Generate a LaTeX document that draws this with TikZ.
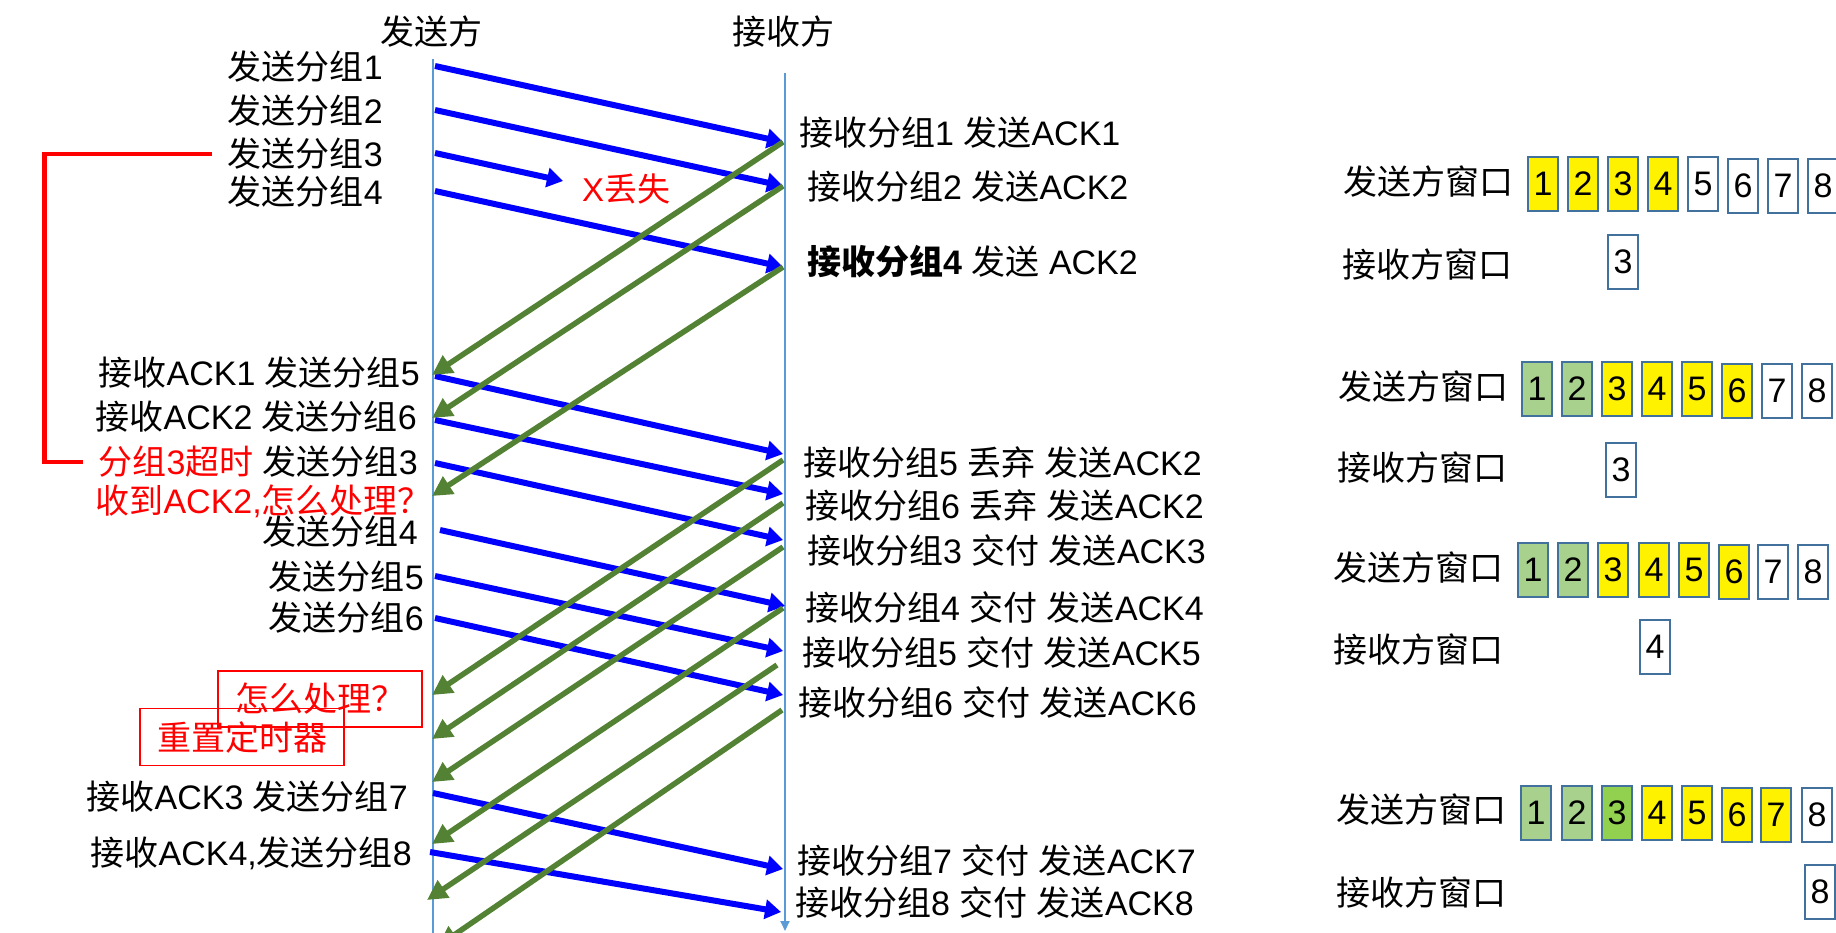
\documentclass[tikz,border=0pt]{standalone}
\usepackage{fontspec}
\setmainfont{Liberation Sans}
\newfontfamily\cjkfont{Noto Sans CJK SC}
\newfontfamily\latfont{Liberation Sans}
\usetikzlibrary{arrows.meta}
\XeTeXinterchartokenstate=1
\chardef\cjkclass=20
\count255="4E00
\loop
  \XeTeXcharclass\count255=\cjkclass
\ifnum\count255<"9FFF
  \advance\count255 by 1
\repeat
\XeTeXcharclass"FF1F=\cjkclass
\XeTeXcharclass"FF0C=\cjkclass
\XeTeXinterchartoks 0 \cjkclass = {\cjkfont}
\XeTeXinterchartoks 4095 \cjkclass = {\cjkfont}
\XeTeXinterchartoks \cjkclass 0 = {\latfont}
\XeTeXinterchartoks \cjkclass 4095 = {\latfont}
\definecolor{lifeblue}{HTML}{5B9BD5}
\definecolor{ackgreen}{HTML}{548235}
\definecolor{boxblue}{HTML}{41719C}
\definecolor{lightgrn}{HTML}{A9D18E}
\definecolor{darkgrn}{HTML}{92D050}

\begin{document}
\begin{tikzpicture}[x=1pt,y=-1pt,
    txt/.style={font=\fontsize{34}{40}\selectfont, inner sep=0pt},
    data/.style={every edge/.style={draw=blue, line width=6pt,
      -{Triangle[length=16pt,width=19pt]}}},
    ack/.style={every edge/.style={draw=ackgreen, line width=5.5pt,
      -{Triangle[length=20pt,width=20pt]}}},
    life/.style={every edge/.style={draw=lifeblue, line width=1.8pt,
      -{Triangle[length=10pt,width=9pt]}}},
    pkt/.style={draw=boxblue, line width=2pt, minimum width=30pt, minimum height=54pt,
      inner sep=0pt, font=\fontsize{34}{40}\selectfont},
    redbox/.style={draw=red, line width=1.5pt, text=red, inner sep=0pt,
      font=\fontsize{34}{40}\selectfont}
  ]
    \useasboundingbox (0,0) rectangle (1836,932);

    \node[txt] (snd) at (431,32) {发送方};
    \node[txt] (rcv) at (783,32) {接收方};
    \coordinate (stop) at (433,59);
    \coordinate (sbot) at (433,944);
    \coordinate (rtop) at (785,73);
    \coordinate (rbot) at (785,931);
    \path[life] (stop) edge (sbot) (rtop) edge (rbot);

    \node[txt, anchor=east] (l1) at (383,67) {发送分组1};
    \node[txt, anchor=east] (l2) at (383,111) {发送分组2};
    \node[txt, anchor=east] (l3) at (383,154) {发送分组3};
    \node[txt, anchor=east] (l4) at (383,192) {发送分组4};
    \node[txt, anchor=east] (l5) at (420,373) {接收ACK1 发送分组5};
    \node[txt, anchor=east] (l6) at (417,417) {接收ACK2 发送分组6};
    \node[txt, anchor=east] (l7) at (418,462) {{\color{red}分组3超时} 发送分组3};
    \node[txt, anchor=east, text=red] (q1) at (432,501) {收到ACK2,怎么处理？};
    \node[txt, anchor=east] (l8) at (418,532) {发送分组4};
    \node[txt, anchor=east] (l9) at (424,577) {发送分组5};
    \node[txt, anchor=east] (l10) at (424,618) {发送分组6};
    \node[txt, anchor=east] (l11) at (408,797) {接收ACK3 发送分组7};
    \node[txt, anchor=east] (l12) at (412,853) {接收ACK4,发送分组8};

    \node[txt, anchor=west, text=red, font=\fontsize{33}{40}\selectfont] (lost) at (582,189) {X丢失};
    \node[redbox, minimum width=204pt, minimum height=56pt] (how) at (320,699) {怎么处理？};
    \node[redbox, minimum width=204pt, minimum height=57pt] (reset) at (242,737) {重置定时器};
    \draw[red, line width=4.5pt] ([xshift=-16pt]l3.west) -- ++(-167,0) |- ([xshift=-15pt]l7.west);

    \node[txt, anchor=west] (m1) at (799,133) {接收分组1 发送ACK1};
    \node[txt, anchor=west] (m2) at (807,187) {接收分组2 发送ACK2};
    \node[txt, anchor=west] (m3) at (807,262) {{\bfseries 接收分组4} 发送 ACK2};
    \node[txt, anchor=west] (m4) at (803,462) {接收分组5 丢弃 发送ACK2};
    \node[txt, anchor=west] (m5) at (805,505) {接收分组6 丢弃 发送ACK2};
    \node[txt, anchor=west] (m6) at (807,550) {接收分组3 交付 发送ACK3};
    \node[txt, anchor=west] (m7) at (805,607) {接收分组4 交付 发送ACK4};
    \node[txt, anchor=west] (m8) at (802,652) {接收分组5 交付 发送ACK5};
    \node[txt, anchor=west] (m9) at (798,702) {接收分组6 交付 发送ACK6};
    \node[txt, anchor=west] (m10) at (797,860) {接收分组7 交付 发送ACK7};
    \node[txt, anchor=west] (m11) at (795,902) {接收分组8 交付 发送ACK8};

    \coordinate (s1) at (435,66);   \coordinate (r1) at (783,142);
    \coordinate (s2) at (435,110);  \coordinate (r2) at (783,186);
    \coordinate (s3) at (435,153);  \coordinate (x3) at (563,181);
    \coordinate (s4) at (435,191);  \coordinate (r4) at (783,267);
    \coordinate (s5) at (435,376);  \coordinate (r5) at (783,454);
    \coordinate (s6) at (435,420);  \coordinate (r6) at (783,494);
    \coordinate (s7) at (435,463);  \coordinate (r7) at (783,540);
    \coordinate (s8) at (440,530);  \coordinate (r8) at (785,606);
    \coordinate (s9) at (435,576);  \coordinate (r9) at (783,651);
    \coordinate (s10) at (435,618); \coordinate (r10) at (783,695);
    \coordinate (s11) at (433,793); \coordinate (r11) at (783,869);
    \coordinate (s12) at (430,852); \coordinate (r12) at (781,912);

    \coordinate (a4) at (783,460);  \coordinate (b1) at (432,375);
    \coordinate (a5) at (783,503);  \coordinate (b2) at (432,418);
    \coordinate (a6) at (783,547);  \coordinate (b3) at (432,496);
    \coordinate (a7) at (783,608);  \coordinate (b4) at (432,695);
    \coordinate (a8) at (777,665);  \coordinate (b5) at (432,739);
    \coordinate (a9) at (782,710);  \coordinate (b6) at (432,782);
    \coordinate (b7) at (432,844);
    \coordinate (b8) at (427,900);
    \coordinate (b9) at (438,946);

    \path[data]
        (s1) edge (r1)
        (s2) edge (r2)
        (s3) edge (x3)
        (s4) edge (r4)
        (s5) edge (r5)
        (s6) edge (r6)
        (s7) edge (r7)
        (s8) edge (r8)
        (s9) edge (r9)
        (s10) edge (r10)
        (s11) edge (r11)
        (s12) edge (r12)
        ;
    \path[ack]
        (r1) edge (b1)
        (r2) edge (b2)
        (r4) edge (b3)
        (a4) edge (b4)
        (a5) edge (b5)
        (a6) edge (b6)
        (a7) edge (b7)
        (a8) edge (b8)
        (a9) edge (b9)
        ;

    \node[txt, anchor=west] (sw1) at (1343,182) {发送方窗口};
    \node[pkt, fill=yellow] (w11) at (1543,184) {1};
    \node[pkt, fill=yellow] (w12) at (1583,184) {2};
    \node[pkt, fill=yellow] (w13) at (1623,184) {3};
    \node[pkt, fill=yellow] (w14) at (1663,184) {4};
    \node[pkt] (w15) at (1703,184) {5};
    \node[pkt] (w16) at (1743,186) {6};
    \node[pkt] (w17) at (1783,186) {7};
    \node[pkt] (w18) at (1823,186) {8};
    \node[txt, anchor=west] (rw1) at (1342,265) {接收方窗口};
    \node[pkt] (v1) at (1623,262) {3};

    \node[txt, anchor=west] (sw2) at (1338,387) {发送方窗口};
    \node[pkt, fill=lightgrn] (w21) at (1537,389) {1};
    \node[pkt, fill=lightgrn] (w22) at (1577,389) {2};
    \node[pkt, fill=yellow] (w23) at (1617,389) {3};
    \node[pkt, fill=yellow] (w24) at (1657,389) {4};
    \node[pkt, fill=yellow] (w25) at (1697,389) {5};
    \node[pkt, fill=yellow] (w26) at (1737,391) {6};
    \node[pkt] (w27) at (1777,391) {7};
    \node[pkt] (w28) at (1817,391) {8};
    \node[txt, anchor=west] (rw2) at (1337,468) {接收方窗口};
    \node[pkt] (v2) at (1621,470) {3};

    \node[txt, anchor=west] (sw3) at (1333,568) {发送方窗口};
    \node[pkt, fill=lightgrn] (w31) at (1533,570) {1};
    \node[pkt, fill=lightgrn] (w32) at (1573,570) {2};
    \node[pkt, fill=yellow] (w33) at (1613,570) {3};
    \node[pkt, fill=yellow] (w34) at (1654,570) {4};
    \node[pkt, fill=yellow] (w35) at (1694,570) {5};
    \node[pkt, fill=yellow] (w36) at (1734,572) {6};
    \node[pkt] (w37) at (1773,572) {7};
    \node[pkt] (w38) at (1813,572) {8};
    \node[txt, anchor=west] (rw3) at (1333,650) {接收方窗口};
    \node[pkt] (v3) at (1655,647) {4};

    \node[txt, anchor=west] (sw4) at (1336,810) {发送方窗口};
    \node[pkt, fill=lightgrn] (w41) at (1536,813) {1};
    \node[pkt, fill=lightgrn] (w42) at (1577,813) {2};
    \node[pkt, fill=darkgrn] (w43) at (1617,813) {3};
    \node[pkt, fill=yellow] (w44) at (1657,813) {4};
    \node[pkt, fill=yellow] (w45) at (1697,813) {5};
    \node[pkt, fill=yellow] (w46) at (1737,815) {6};
    \node[pkt, fill=yellow] (w47) at (1776,815) {7};
    \node[pkt] (w48) at (1817,815) {8};
    \node[txt, anchor=west] (rw4) at (1336,892) {接收方窗口};
    \node[pkt] (v4) at (1820,892) {8};
\end{tikzpicture}
\end{document}
